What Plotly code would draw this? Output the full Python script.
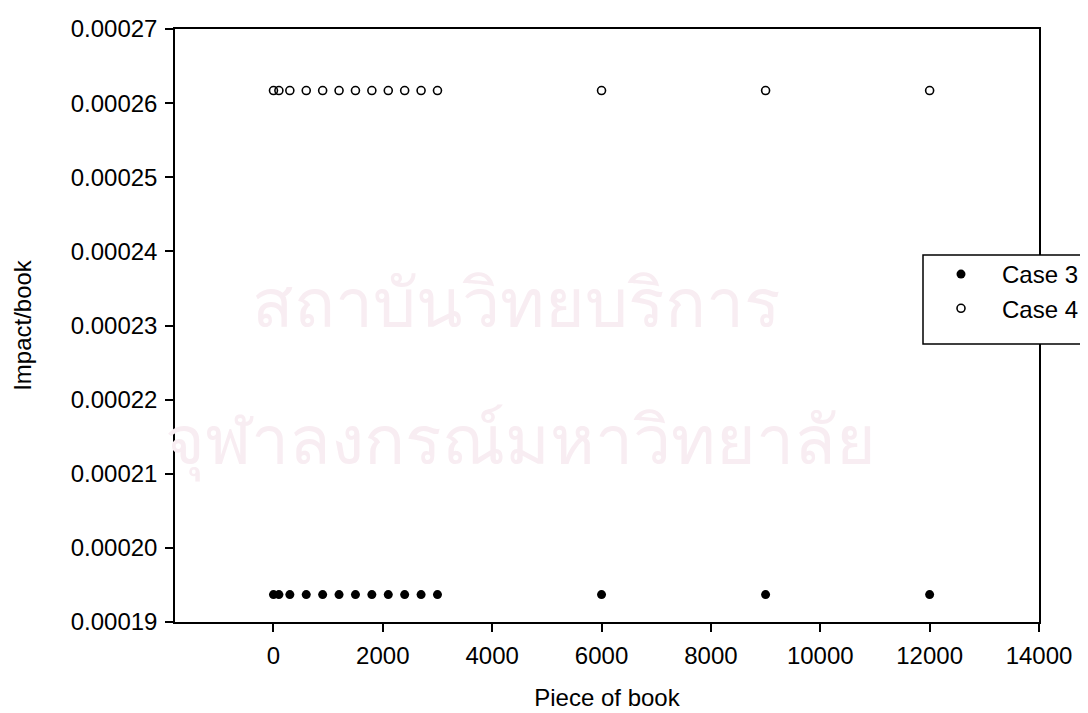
import plotly.graph_objects as go

pieces = [1, 100, 300, 600, 900, 1200, 1500, 1800, 2100, 2400, 2700, 3000, 6000, 9000, 12000]
case3 = [0.0001937, 0.0001937, 0.0001937, 0.0001937, 0.0001937, 0.0001937, 0.0001937, 0.0001937,
         0.0001937, 0.0001937, 0.0001937, 0.0001937, 0.0001937, 0.0001937, 0.0001937]
case4 = [0.0002617, 0.0002617, 0.0002617, 0.0002617, 0.0002617, 0.0002617, 0.0002617, 0.0002617,
         0.0002617, 0.0002617, 0.0002617, 0.0002617, 0.0002617, 0.0002617, 0.0002617]
series_names = ["Case 3", "Case 4"]
x_ticks = [0, 2000, 4000, 6000, 8000, 10000, 12000, 14000]
x_tick_text = ["0", "2000", "4000", "6000", "8000", "10000", "12000", "14000"]
y_ticks = [0.00019, 0.00020, 0.00021, 0.00022, 0.00023, 0.00024, 0.00025, 0.00026, 0.00027]
y_tick_text = ["0.00019", "0.00020", "0.00021", "0.00022", "0.00023", "0.00024", "0.00025", "0.00026", "0.00027"]
watermark = ["สถาบันวิทยบริการ", "จุฬาลงกรณ์มหาวิทยาลัย"]

FONT = "Liberation Sans, Arial, sans-serif"
FS = 24
W, H = 1088, 713
ML, MR, MT, MB = 167, 57, 21, 99
pw, ph = W - ML - MR, H - MT - MB

def px_x(p):
    return (p - ML) / pw

def px_y(p):
    return (H - MB - p) / ph

fig = go.Figure()
fig.add_trace(go.Scatter(
    x=pieces, y=case3, mode="markers", name=series_names[0],
    marker=dict(symbol="circle", size=9, color="black", line=dict(width=0)),
))
fig.add_trace(go.Scatter(
    x=pieces, y=case4, mode="markers", name=series_names[1],
    marker=dict(symbol="circle-open", size=8, color="black", line=dict(width=1.6, color="black")),
))

# very faint background watermark text
fig.add_annotation(x=px_x(508), y=px_y(292), xref="paper", yref="paper", text=watermark[0],
                   showarrow=False, font=dict(size=68, color="#f8edf2", family="Noto Sans, DejaVu Sans"))
fig.add_annotation(x=px_x(512), y=px_y(478), xref="paper", yref="paper", text=watermark[1],
                   showarrow=False, font=dict(size=68, color="#f8edf2", family="Noto Sans, DejaVu Sans"))

# legend box (runs off the right edge like the reference)
fig.add_shape(type="rect", xref="paper", yref="paper",
              x0=px_x(915), x1=px_x(1100), y0=px_y(336), y1=px_y(247),
              line=dict(color="black", width=1.5), fillcolor="white", layer="above")

axis_common = dict(
    showline=True, linecolor="black", linewidth=1.5, mirror=True,
    ticks="outside", ticklen=8, tickwidth=1.5, tickcolor="black",
    showgrid=False, zeroline=False, automargin=False,
    tickfont=dict(family=FONT, size=FS, color="black"),
)

fig.update_layout(
    width=W, height=H,
    margin=dict(l=ML, r=MR, t=MT, b=MB, autoexpand=False),
    paper_bgcolor="white", plot_bgcolor="rgba(0,0,0,0)",
    font=dict(family=FONT, size=FS, color="black"),
    xaxis=dict(range=[-1800, 14000], tickvals=x_ticks, ticktext=x_tick_text, ticklabelstandoff=3,
               title=dict(text="Piece of book", font=dict(family=FONT, size=FS), standoff=22),
               **axis_common),
    yaxis=dict(range=[0.00019, 0.00027], tickvals=y_ticks, ticktext=y_tick_text, ticklabelstandoff=3,
               title=dict(text="Impact/book", font=dict(family=FONT, size=FS), standoff=32),
               **axis_common),
    showlegend=True,
    legend=dict(x=px_x(912), y=px_y(244), xanchor="left", yanchor="top",
                bgcolor="rgba(0,0,0,0)", borderwidth=0, itemwidth=72,
                font=dict(family=FONT, size=FS)),
)

fig.write_html("out.html")
